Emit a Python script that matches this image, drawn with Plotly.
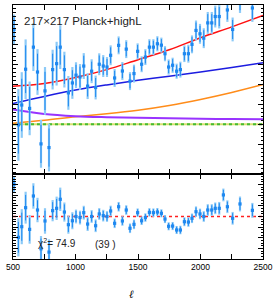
import plotly.graph_objects as go
from plotly.subplots import make_subplots

# ---- data ----
ell = [508, 543, 570, 601, 633, 663, 696, 724, 756, 788, 817, 849, 878, 911, 943, 975,
       1004, 1036, 1066, 1097, 1129, 1161, 1190, 1222, 1252, 1281, 1313, 1345, 1375, 1406,
       1436, 1468, 1497, 1529, 1559, 1591, 1623, 1655, 1687, 1716, 1745, 1777, 1809, 1839,
       1871, 1903, 1932, 1964, 1996, 2026, 2058, 2090, 2118, 2150, 2183, 2215, 2257, 2316, 2415]
data_top = [4.77, -0.03, 0.97, 2.77, 0.8, 3.88, 2.63, -0.985, 1.68, -1.17, 2.75, 3.05, 3.88,
            2.75, 1.58, 2.08, 2.47, 2.38, 2.93, 1.92, 2.67, 1.85, 3.02, 2.93, 2.88, 3.47, 2.33,
            3.97, 2.68, 3.78, 2.17, 2.55, 3.67, 3.02, 3.38, 3.88, 3.88, 4.05, 3.98, 3.55, 2.88,
            2.97, 2.67, 2.75, 3.55, 3.55, 4.02, 4.72, 4.55, 4.33, 5.1, 5.1, 5.42, 5.42, 6.9,
            5.75, 4.77, 6.3, 5.85]
resid = [3.04, -1.96, -0.96, 0.83, -1.21, 1.93, 0.61, -3.04, -0.42, -3.35, 0.55, 0.77, 1.62,
         0.42, -0.77, -0.4, 0.0, -0.1, 0.36, -0.71, 0.0, -0.87, 0.24, 0.08, 0.0, 0.52, -0.64,
         0.92, -0.42, 0.61, -1.11, -0.74, 0.36, -0.4, -0.1, 0.39, 0.36, 0.42, 0.3, -0.24,
         -0.92, -0.9, -1.27, -1.27, -0.49, -0.52, -0.17, 0.45, 0.24, 0.0, 0.61, 0.61, 0.77,
         0.77, 2.03, 0.92, -0.17, 1.18, 0.58]
err = [0.75, 1.8, 1.65, 1.5, 1.35, 1.2, 1.15, 1.2, 1.2, 1.2, 1.0, 1.1, 1.1, 0.9, 0.85, 0.8,
       0.65, 0.65, 0.65, 0.65, 0.6, 0.6, 0.55, 0.55, 0.5, 0.5, 0.45, 0.45, 0.45, 0.45, 0.45,
       0.45, 0.4, 0.4, 0.4, 0.4, 0.4, 0.38, 0.38, 0.38, 0.38, 0.38, 0.38, 0.4, 0.42, 0.45,
       0.45, 0.5, 0.5, 0.5, 0.55, 0.55, 0.55, 0.6, 0.6, 0.6, 0.6, 0.7, 0.7]

model_ell = [500, 750, 1000, 1250, 1500, 1750, 2000, 2250, 2500]
total_model = [1.91, 2.05, 2.35, 2.75, 3.25, 3.75, 4.35, 4.9, 5.47]
cmb_model = [1.05, 1.40, 1.72, 1.98, 2.21, 2.42, 2.63, 2.86, 3.1]
ps_model = [0.05, 0.2, 0.38, 0.53, 0.71, 0.95, 1.25, 1.6, 2.0]
cib_model = [0.75, 0.52, 0.41, 0.36, 0.33, 0.3, 0.28, 0.26, 0.25]
zero_model = [0, 0, 0, 0, 0, 0, 0, 0, 0]

xtick_vals = [500, 1000, 1500, 2000, 2500]
xtick_text = ["500", "1000", "1500", "2000", "2500"]

title_text = "217×217 Planck+highL"
chi2_text = "χ<sup>2</sup>= 74.9"
dof_text = "(39 )"

W, H = 278, 306
L, R, T, B = 13, 15, 5, 47
plot_h = H - T - B
split = (259 - 174) / plot_h

fig = make_subplots(rows=2, cols=1, shared_xaxes=False, vertical_spacing=0,
                    row_heights=[1 - split, split])

light = "#8ccaf7"
dark = "#1e88f0"

# model lines (top)
fig.add_trace(go.Scatter(x=model_ell, y=zero_model, mode="lines",
                         line=dict(color="#d8e070", width=2), hoverinfo="skip"), row=1, col=1)
fig.add_trace(go.Scatter(x=model_ell, y=zero_model, mode="lines",
                         line=dict(color="#44bb33", width=2, dash="dot"), hoverinfo="skip"), row=1, col=1)
for ys, col, w in [(ps_model, "#ff8c1a", 1.5), (cib_model, "#9933ff", 2),
                   (cmb_model, "#1c1ce0", 1.5), (total_model, "#ff1010", 1.5)]:
    fig.add_trace(go.Scatter(x=model_ell, y=ys, mode="lines", line_shape="spline",
                             line=dict(color=col, width=w), hoverinfo="skip"), row=1, col=1)

# data points (top)
fig.add_trace(go.Scatter(x=ell, y=data_top, mode="markers",
                         marker=dict(size=1, color=light, opacity=0),
                         error_y=dict(type="data", array=err, color=light, thickness=2.2, width=0)),
              row=1, col=1)
fig.add_trace(go.Scatter(x=ell, y=data_top, mode="markers",
                         marker=dict(symbol="square", size=3.2, color=dark),
                         error_y=dict(type="data", array=[e * 0.8 for e in err], color=dark,
                                      thickness=1, width=0)),
              row=1, col=1)

# residuals (bottom)
fig.add_trace(go.Scatter(x=model_ell, y=zero_model, mode="lines",
                         line=dict(color="#ff2020", width=1.5, dash="dot"), hoverinfo="skip"),
              row=2, col=1)
fig.add_trace(go.Scatter(x=ell, y=resid, mode="markers",
                         marker=dict(size=1, color=light, opacity=0),
                         error_y=dict(type="data", array=err, color=light, thickness=2.2, width=0)),
              row=2, col=1)
fig.add_trace(go.Scatter(x=ell, y=resid, mode="markers",
                         marker=dict(symbol="square", size=3.2, color=dark),
                         error_y=dict(type="data", array=[e * 0.8 for e in err], color=dark,
                                      thickness=1, width=0)),
              row=2, col=1)

axis_common = dict(showline=True, linecolor="black", linewidth=1, mirror="ticks",
                   ticks="inside", ticklen=5, tickcolor="black", showgrid=False,
                   zeroline=False)

fig.update_xaxes(range=[500, 2500], tickvals=xtick_vals, ticktext=xtick_text,
                 minor=dict(ticks="inside", ticklen=5, dtick=250, tickcolor="black"),
                 **axis_common)
fig.update_xaxes(showticklabels=False, row=1, col=1)
fig.update_xaxes(showticklabels=True, tickfont=dict(size=8.5, color="black",
                                                    family="Liberation Sans"), row=2, col=1)
fig.update_yaxes(range=[-2.5, 6.0], dtick=1, tick0=0, showticklabels=False,
                 minor=dict(ticks="inside", ticklen=2.5, dtick=0.2, tickcolor="black"),
                 row=1, col=1, **axis_common)
fig.update_yaxes(range=[-4, 4], dtick=1, tick0=0, showticklabels=False,
                 minor=dict(ticks="inside", ticklen=2.5, dtick=0.25, tickcolor="black"),
                 row=2, col=1, **axis_common)

def px_x(px):
    return (px - L) / (W - L - R)

def px_y(py):
    return (H - B - py) / plot_h

fig.add_annotation(text=title_text, xref="paper", yref="paper", x=px_x(22), y=px_y(20.5),
                   xanchor="left", yanchor="middle", showarrow=False,
                   font=dict(size=11.5, color="#222", family="Liberation Sans"))
fig.add_annotation(text=chi2_text, xref="paper", yref="paper", x=px_x(36), y=px_y(243),
                   xanchor="left", yanchor="middle", showarrow=False,
                   font=dict(size=10, color="#222", family="Liberation Sans"))
fig.add_annotation(text=dof_text, xref="paper", yref="paper", x=px_x(93), y=px_y(244),
                   xanchor="left", yanchor="middle", showarrow=False,
                   font=dict(size=10, color="#222", family="Liberation Sans"))
fig.add_annotation(text="<i>ℓ</i>", xref="paper", yref="paper", x=px_x(131), y=px_y(294),
                   xanchor="center", yanchor="middle", showarrow=False,
                   font=dict(size=11, color="black", family="DejaVu Serif"))

fig.update_layout(width=W, height=H, margin=dict(l=L, r=R, t=T, b=B),
                  paper_bgcolor="white", plot_bgcolor="white", showlegend=False)

fig.write_html("out.html", config={"displayModeBar": False},
               post_script="document.body.style.margin='0px';document.body.style.overflow='hidden';")
